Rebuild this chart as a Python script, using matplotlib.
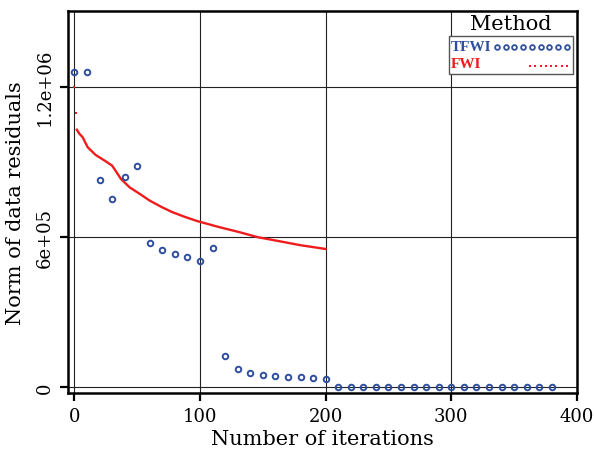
import matplotlib
matplotlib.use('Agg')
import matplotlib.pyplot as plt
import numpy as np
from matplotlib.lines import Line2D
from matplotlib.patches import Rectangle

# TFWI: every 10 iterations
tfwi_x = list(range(0, 390, 10))
tfwi_y = [1257000, 1259000, 827000, 753000, 839000, 882000, 575000, 548000, 533000, 521000,
          503000, 556000, 124000, 74000, 58000, 50000, 46000, 42000, 40000, 38000,
          34000, 3000, 1800, 1500, 1300, 1200, 1100, 1000, 1000, 900,
          900, 800, 800, 700, 700, 600, 600, 600, 500]

# FWI
fwi_x = [0, 1, 2, 4, 6.6, 10.6, 17, 24, 30, 32.7, 37, 44, 52, 60, 70, 78, 88, 98, 115.5, 131.5, 146, 160, 180, 200]
fwi_y = [1200000, 1094000, 1028000, 1012000, 998000, 958000, 927000, 905000, 885000, 865000, 832000,
         798000, 772000, 745000, 718000, 699000, 680000, 663000, 639000, 619000, 599000, 586000,
         567000, 552000]

blue = '#2f4f9f'
red = '#ee1c1c'
plt.rcParams['font.family'] = ['DejaVu Serif']

fig = plt.figure(figsize=(5.95, 4.52), dpi=100)
ax = fig.add_axes([0.1138, 0.129, 0.8559, 0.8445])

ax.set_xlim(-5.3, 399.2)
ax.set_ylim(-21600, 1502000)

for gx in [0, 100, 200, 300]:
    ax.axvline(gx, color='#222222', lw=0.8, zorder=1)
for gy in [0, 600000, 1200000]:
    ax.axhline(gy, color='#222222', lw=0.8, zorder=1)

ax.plot(fwi_x[2:], fwi_y[2:], color=red, lw=1.7, zorder=2)
ax.plot(fwi_x[:3], fwi_y[:3], ls='none', marker='s', ms=1.8, color=red, mew=0, zorder=2)
ax.plot(tfwi_x, tfwi_y, ls='none', marker='o', ms=4.0, mfc='none', mec=blue, mew=1.4, zorder=3)

ax.set_xticks([0, 100, 200, 300, 400])
ax.set_yticks([0, 600000, 1200000])
ax.set_yticklabels(['0', '6e+05', '1.2e+06'], rotation=90, va='center')
ax.tick_params(axis='both', direction='out', length=6, width=1.6, labelsize=13, pad=4)
ax.set_xlabel('Number of iterations', fontsize=15, labelpad=3)
ax.set_ylabel('Norm of data residuals', fontsize=15, labelpad=8)
for s in ax.spines.values():
    s.set_linewidth(1.8)

# legend, drawn by hand: labels left, glyphs right
ax.add_patch(Rectangle((0.7487, 0.8336), 0.2429, 0.1001, transform=ax.transAxes,
                       fill=True, fc='white', ec='#555555', lw=1.0, zorder=5, clip_on=False))
lab_font = dict(family='Liberation Serif', weight='bold', size=11)
ax.text(0.7526, 0.906, 'TFWI', color=blue, transform=ax.transAxes, ha='left', va='center',
        zorder=6, **lab_font)
ax.text(0.7526, 0.862, 'FWI', color=red, transform=ax.transAxes, ha='left', va='center',
        zorder=6, **lab_font)
ax.add_line(Line2D(np.linspace(0.8428, 0.9803, 9), [0.906] * 9, transform=ax.transAxes,
                   ls='none', marker='o', ms=3.4, mfc='none', mec=blue, mew=1.3, zorder=6, clip_on=False))
ax.add_line(Line2D(np.linspace(0.9078, 0.9803, 8), [0.857] * 8, transform=ax.transAxes,
                   ls='none', marker='s', ms=1.6, mew=0, color=red, zorder=6, clip_on=False))
ax.text(0.87, 0.967, 'Method', transform=ax.transAxes, ha='center', va='center', fontsize=15)

fig.savefig('out.png', dpi=100)
